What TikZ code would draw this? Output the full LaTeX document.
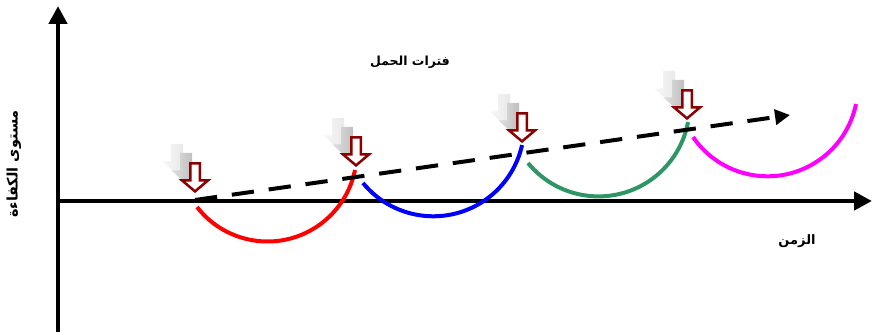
\documentclass[tikz,border=0pt]{standalone}
\usepackage{fontspec}
\newfontfamily\arabicfont[Script=Arabic]{DejaVu Sans}
\TeXXeTstate=1
\usetikzlibrary{arrows.meta}
\definecolor{arrowred}{RGB}{140,0,0}
\definecolor{curvegreen}{RGB}{46,150,100}
\definecolor{curvemagenta}{RGB}{255,0,255}
\tikzset{
  axisline/.style={line width=4.5pt,-{Triangle[length=18pt,width=18pt]}},
  curveline/.style={line width=4pt},
  trendline/.style={line width=4pt,dash pattern=on 22.3pt off 14.9pt,-{Triangle[length=15pt,width=15pt]}},
  arlabel/.style={font=\arabicfont\bfseries\fontsize{12.5}{14}\selectfont,inner sep=0pt},
  blockarrow/.pic={\path[pic actions] (0,0) -- (-13,11) -- (-4.75,11) -- (-4.75,28) -- (4.75,28) -- (4.75,11) -- (13,11) -- cycle;},
  shadowarrow/.pic={\path[pic actions] (0,-1.6) -- (-14.5,12) -- (-6,12) -- (-6,29.5) -- (6,29.5) -- (6,12) -- (14.5,12) -- cycle;},
  loadarrow/.style={draw=arrowred,fill=white,line width=2.5pt,line join=miter},
  shadefar/.style={left color=gray!6,right color=gray!22},
  shadenear/.style={left color=gray!25,right color=gray!60},
}
\begin{document}
\begin{tikzpicture}[x=1pt,y=1pt]
\useasboundingbox (0,0) rectangle (872,332);
% axes
\coordinate (vb) at (58,0);
\coordinate (vt) at (58,326);
\coordinate (hl) at (56,131);
\coordinate (hr) at (872,131);
\draw[axisline] (vb) -- (vt);
\draw[axisline] (hl) -- (hr);
% curves
\draw[curveline,red] (267.5,179.8) ++(217.9:89.3pt) arc[start angle=217.9,end angle=348.5,radius=89.3pt];
\draw[curveline,blue] (433.3,206.6) ++(219.3:90.9pt) arc[start angle=219.3,end angle=347.5,radius=90.9pt];
\draw[curveline,curvegreen] (598.5,226.7) ++(219.3:91.1pt) arc[start angle=219.3,end angle=349.4,radius=91.1pt];
\draw[curveline,curvemagenta] (767.5,246) ++(214.4:90.3pt) arc[start angle=214.4,end angle=348.5,radius=90.3pt];
% trend
\coordinate (ts) at (195,132);
\coordinate (te) at (790,217);
\draw[trendline] (ts) -- (te);
% load arrows
\foreach \x/\y in {195/140.6,356/166.6,522/190.6,687/213.6}{
  \pic[shadefar] at (\x-18,\y+18) {shadowarrow};
  \pic[shadenear] at (\x-9,\y+9) {shadowarrow};
  \pic[loadarrow] at (\x,\y) {blockarrow};
}
% labels
\node[arlabel] (title) at (410,270) {\beginR فترات الحمل\endR};
\node[arlabel,font=\arabicfont\bfseries\fontsize{13}{15}\selectfont] (xlab) at (797,91) {\beginR الزمن\endR};
\node[arlabel,font=\arabicfont\bfseries\fontsize{14.5}{16}\selectfont,rotate=90] (ylab) at (14,168) {\beginR مستوى الكفاءة\endR};
\end{tikzpicture}
\end{document}
